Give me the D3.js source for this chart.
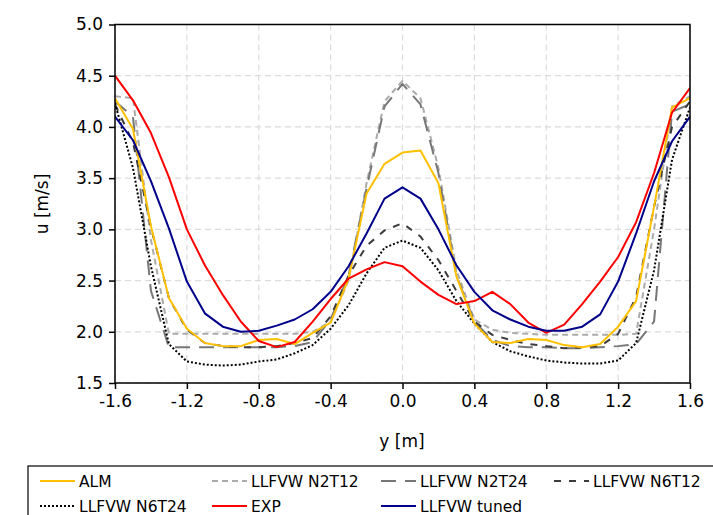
<!DOCTYPE html>
<html><head><meta charset="utf-8">
<script src="https://cdn.jsdelivr.net/npm/d3@7"></script>
<style>
body{margin:0;background:#fff;}
svg text{font-family:"DejaVu Sans",sans-serif;fill:#000;}
</style></head>
<body><svg id="chart" width="713" height="515"></svg>
<script>
const yPos = [-1.6,-1.5,-1.4,-1.3,-1.2,-1.1,-1.0,-0.9,-0.8,-0.7,-0.6,-0.5,-0.4,-0.3,-0.2,-0.1,0,0.1,0.2,0.3,0.4,0.5,0.6,0.7,0.8,0.9,1.0,1.1,1.2,1.3,1.4,1.5,1.6];
const ALM    = [4.28,3.98,3.03,2.33,2.03,1.89,1.86,1.86,1.92,1.93,1.88,1.99,2.09,2.52,3.35,3.64,3.75,3.77,3.45,2.54,2.08,1.90,1.89,1.93,1.92,1.87,1.85,1.88,2.05,2.30,3.22,4.19,4.28];
const N2T12  = [4.30,4.28,2.90,1.98,1.98,1.98,1.98,1.98,1.98,1.98,1.98,2.00,2.10,2.50,3.45,4.25,4.45,4.28,3.60,2.60,2.12,2.02,1.99,1.98,1.97,1.97,1.97,1.97,1.97,1.98,3.00,4.20,4.30];
const N2T24  = [4.25,4.10,2.40,1.85,1.85,1.85,1.85,1.85,1.85,1.85,1.86,1.90,2.12,2.55,3.40,4.20,4.42,4.22,3.55,2.55,2.10,1.92,1.86,1.85,1.85,1.84,1.84,1.85,1.86,1.88,2.10,4.15,4.22];
const N6T12  = [4.22,3.85,3.02,2.33,2.02,1.89,1.86,1.85,1.85,1.86,1.89,1.94,2.15,2.55,2.84,2.99,3.06,2.93,2.70,2.40,2.10,1.97,1.92,1.88,1.86,1.84,1.85,1.86,1.98,2.34,3.22,4.00,4.25];
const N6T24  = [4.23,3.60,2.64,1.88,1.71,1.68,1.67,1.68,1.71,1.73,1.79,1.87,2.03,2.26,2.57,2.82,2.89,2.82,2.60,2.30,2.08,1.90,1.81,1.76,1.72,1.70,1.69,1.69,1.72,1.89,2.60,3.68,4.19];
const EXP    = [4.50,4.26,3.94,3.51,3.00,2.65,2.36,2.10,1.91,1.85,1.90,2.10,2.32,2.52,2.61,2.68,2.64,2.49,2.36,2.27,2.30,2.39,2.27,2.09,1.99,2.07,2.27,2.49,2.73,3.07,3.55,4.14,4.38];
const TUNED  = [4.10,3.87,3.47,3.01,2.49,2.18,2.05,2.00,2.01,2.06,2.12,2.22,2.39,2.64,2.96,3.30,3.41,3.30,3.00,2.65,2.39,2.21,2.12,2.05,2.01,2.01,2.05,2.17,2.49,2.96,3.47,3.86,4.10];
const xTicks = [-1.6,-1.2,-0.8,-0.4,0.0,0.4,0.8,1.2,1.6];
const yTicks = [1.5,2.0,2.5,3.0,3.5,4.0,4.5,5.0];
const seriesNames = ["ALM","LLFVW N2T12","LLFVW N2T24","LLFVW N6T12","LLFVW N6T24","EXP","LLFVW tuned"];

const series = [
  {name:"ALM", values:ALM, color:"#FFC000", dash:null, w:2},
  {name:"LLFVW N2T12", values:N2T12, color:"#ABABAB", dash:"6,4", w:2},
  {name:"LLFVW N2T24", values:N2T24, color:"#777777", dash:"15,9", w:2},
  {name:"LLFVW N6T12", values:N6T12, color:"#3C3C3C", dash:"7,8", w:2},
  {name:"LLFVW N6T24", values:N6T24, color:"#000000", dash:"2,2", w:2},
  {name:"EXP", values:EXP, color:"#FF0000", dash:null, w:2},
  {name:"LLFVW tuned", values:TUNED, color:"#00008B", dash:null, w:2}
];
const drawOrder = ["LLFVW N2T12","LLFVW N2T24","LLFVW N6T12","LLFVW N6T24","ALM","EXP","LLFVW tuned"];

const svg = d3.select("#chart");
const L=115, R=690, T=24.5, B=383;
const x = d3.scaleLinear().domain([-1.6,1.6]).range([L,R]);
const y = d3.scaleLinear().domain([1.5,5.0]).range([B,T]);

// grid
const g = svg.append("g");
g.selectAll(".gx").data(xTicks).join("line")
  .attr("x1",d=>x(d)).attr("x2",d=>x(d)).attr("y1",T).attr("y2",B)
  .attr("stroke","#dcdcdc").attr("stroke-width",1.2).attr("stroke-dasharray","6,4");
g.selectAll(".gy").data(yTicks).join("line")
  .attr("y1",d=>y(d)).attr("y2",d=>y(d)).attr("x1",L).attr("x2",R)
  .attr("stroke","#dcdcdc").attr("stroke-width",1.2).attr("stroke-dasharray","6,4");

// lines
const clip = svg.append("clipPath").attr("id","clip").append("rect")
  .attr("x",L).attr("y",T).attr("width",R-L).attr("height",B-T);
const lineGen = vals => d3.line().x((d,i)=>x(yPos[i])).y(d=>y(d))(vals);
const lg = svg.append("g").attr("clip-path","url(#clip)");
drawOrder.forEach(n=>{
  const s = series.find(t=>t.name===n);
  lg.append("path").attr("d",lineGen(s.values)).attr("fill","none")
    .attr("stroke",s.color).attr("stroke-width",s.w)
    .attr("stroke-dasharray",s.dash).attr("stroke-linejoin","round");
});

// frame
svg.append("rect").attr("x",L).attr("y",T).attr("width",R-L).attr("height",B-T)
  .attr("fill","none").attr("stroke","#000").attr("stroke-width",1.5);

// axes
const xAxis = d3.axisBottom(x).tickValues(xTicks).tickFormat(d3.format(".1f")).tickSize(6).tickPadding(6);
const yAxis = d3.axisLeft(y).tickValues(yTicks).tickFormat(d3.format(".1f")).tickSize(6).tickPadding(6);
const ax = svg.append("g").attr("transform",`translate(0,${B})`).call(xAxis);
const ay = svg.append("g").attr("transform",`translate(${L},0)`).call(yAxis);
[ax,ay].forEach(a=>{
  a.select(".domain").remove();
  a.selectAll(".tick line").attr("stroke","#000").attr("stroke-width",1.5);
  a.selectAll("text").attr("font-size",17).attr("font-family","DejaVu Sans").attr("fill","#000");
});
ax.selectAll("text").text(d=>d3.format(".1f")(d).replace("−","-"));

svg.append("text").attr("x",402).attr("y",447).attr("text-anchor","middle")
  .attr("font-size",17).text("y [m]");
svg.append("text").attr("transform","translate(48,204) rotate(-90)").attr("text-anchor","middle")
  .attr("font-size",17).text("u [m/s]");

// legend
const leg = svg.append("g");
leg.append("rect").attr("x",28).attr("y",466).attr("width",700).attr("height",60)
  .attr("fill","#fff").attr("stroke","#000").attr("stroke-width",1.2);
const colLine = [40,212,381,554];
const rows = [481,506];
series.forEach((s,i)=>{
  const r = i<4?0:1, c = i<4?i:i-4;
  const lx = colLine[c], ly = rows[r];
  leg.append("line").attr("x1",lx).attr("x2",lx+35).attr("y1",ly).attr("y2",ly)
    .attr("stroke",s.color).attr("stroke-width",s.w).attr("stroke-dasharray",s.dash);
  leg.append("text").attr("x",lx+39).attr("y",ly+5.5).attr("font-size",15.5).text(seriesNames[i]);
});
</script></body></html>
